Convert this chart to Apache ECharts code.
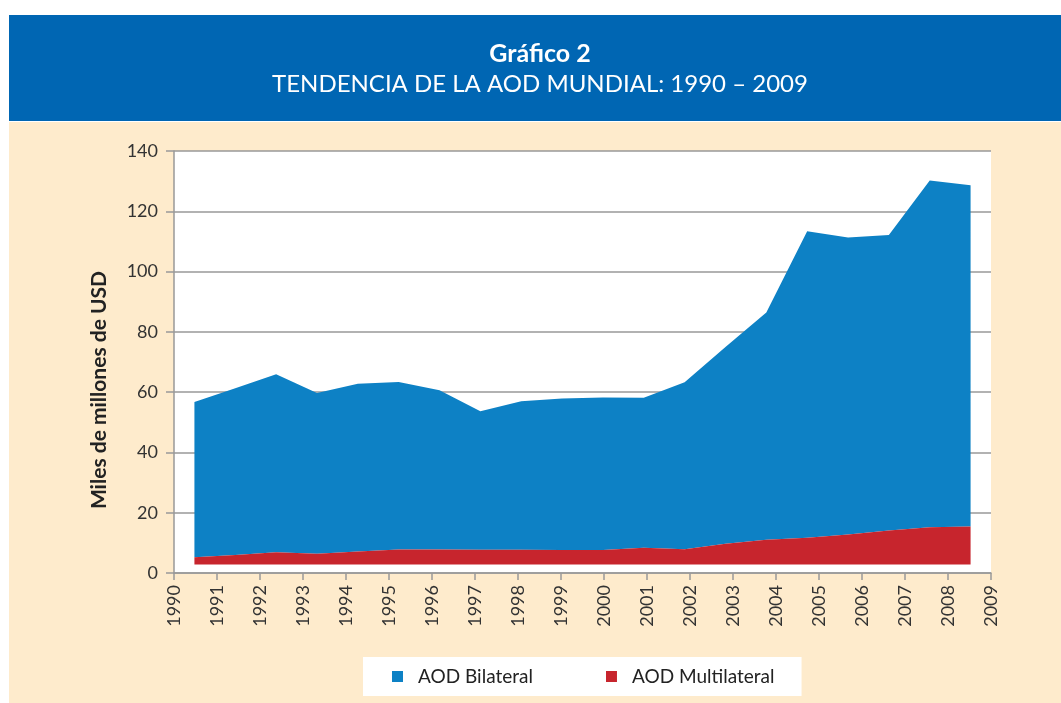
<!DOCTYPE html>
<html>
<head>
<meta charset="utf-8">
<title>Gráfico 2 - Tendencia de la AOD mundial</title>
<script src="https://cdn.jsdelivr.net/npm/echarts@6/dist/echarts.min.js"></script>
<style>
  html, body { margin: 0; padding: 0; background: #fff; }
  #chart { width: 1061px; height: 703px; }
</style>
</head>
<body>
<div id="chart"></div>
<script>
// categorias (una banda por año, los datos caen en el centro de cada banda)
const years = ['1990', '1991', '1992', '1993', '1994', '1995', '1996', '1997', '1998', '1999',
               '2000', '2001', '2002', '2003', '2004', '2005', '2006', '2007', '2008', '2009'];

// etiquetas del eje X (sobre las marcas)
const tickYears = [1990, 2009];

// AOD multilateral (borde superior de la franja roja, miles de millones USD)
const multilateral = [5.2, 6.0, 6.9, 6.4, 7.1, 7.8, 7.8, 7.7, 7.7, 7.6,
                      7.6, 8.4, 7.9, 9.7, 11.0, 11.7, 12.8, 14.1, 15.2, 15.4];

// AOD bilateral (apilada encima de la multilateral)
const bilateral = [51.5, 55.3, 59.0, 53.3, 55.7, 55.6, 52.8, 46.0, 49.3, 50.3,
                   50.6, 49.7, 55.4, 65.3, 75.4, 101.7, 98.5, 98.0, 115.0, 113.2];

// base de las areas en el original (no arrancan en 0)
const areaBase = 2.8;

const FONT = 'Lato';
const chart = echarts.init(document.getElementById('chart'));

const option = {
    animation: false,
    textStyle: { fontFamily: FONT },
    graphic: [
        // banda azul del titulo
        { type: 'rect', left: 9, top: 15, shape: { width: 1052, height: 106 }, style: { fill: '#0066b3' }, z: -10 },
        // fondo crema
        { type: 'rect', left: 9, top: 122, shape: { width: 1052, height: 581 }, style: { fill: '#feebcc' }, z: -10 },
        {
            type: 'text', x: 540, y: 54,
            style: { text: 'Gráfico 2', fill: '#fff', font: 'bold 25px ' + FONT, textAlign: 'center', textVerticalAlign: 'middle' }
        },
        {
            type: 'text', x: 540, y: 84,
            style: { text: 'TENDENCIA DE LA AOD MUNDIAL: 1990 – 2009', fill: '#fff', font: '24px ' + FONT, textAlign: 'center', textVerticalAlign: 'middle' }
        }
    ],
    legend: {
        data: ['AOD Bilateral', 'AOD Multilateral'],
        left: 363,
        top: 657,
        padding: [10, 27, 10, 29],
        backgroundColor: '#fff',
        icon: 'rect',
        itemWidth: 11,
        itemHeight: 11,
        itemGap: 73,
        textStyle: { fontSize: 19, color: '#222', padding: [0, 0, 0, 10], fontFamily: FONT }
    },
    grid: {
        left: 174,
        right: 70,
        top: 151,
        bottom: 130,
        show: true,
        backgroundColor: '#fff',
        borderWidth: 0
    },
    xAxis: [
        {
            // eje de datos (oculto)
            type: 'category',
            data: years,
            boundaryGap: true,
            show: false
        },
        {
            // eje visible con etiquetas en las marcas
            type: 'value',
            min: tickYears[0],
            max: tickYears[1],
            interval: 1,
            position: 'bottom',
            axisLine: { show: true, lineStyle: { color: '#999', width: 1.5 } },
            axisTick: { show: true, length: 7, lineStyle: { color: '#999', width: 1.5 } },
            splitLine: { show: false },
            axisLabel: {
                rotate: 90,
                fontSize: 18,
                color: '#333',
                margin: 12,
                formatter: v => String(v)
            }
        }
    ],
    yAxis: {
        type: 'value',
        min: 0,
        max: 140,
        interval: 20,
        name: 'Miles de millones de USD',
        nameLocation: 'middle',
        nameRotate: 90,
        nameGap: 64,
        nameTextStyle: { fontSize: 21, fontWeight: 'bold', color: '#222', padding: [0, 56, 0, 0] },
        axisLine: { show: true, lineStyle: { color: '#999', width: 1.5 } },
        axisTick: { show: true, length: 8, lineStyle: { color: '#999', width: 1.5 } },
        splitLine: { show: true, lineStyle: { color: '#999', width: 1.5 } },
        axisLabel: { fontSize: 18, color: '#333', margin: 16 }
    },
    series: [
        {
            name: 'AOD Multilateral',
            type: 'line',
            xAxisIndex: 0,
            stack: 'aod',
            data: multilateral,
            showSymbol: false,
            lineStyle: { width: 0 },
            itemStyle: { color: '#c7252d' },
            areaStyle: { color: '#c7252d', opacity: 1, origin: areaBase },
            z: 3
        },
        {
            name: 'AOD Bilateral',
            type: 'line',
            xAxisIndex: 0,
            stack: 'aod',
            data: bilateral,
            showSymbol: false,
            lineStyle: { width: 0 },
            itemStyle: { color: '#0d81c5' },
            areaStyle: { color: '#0d81c5', opacity: 1 },
            z: 2
        }
    ]
};

chart.setOption(option);
</script>
</body>
</html>
